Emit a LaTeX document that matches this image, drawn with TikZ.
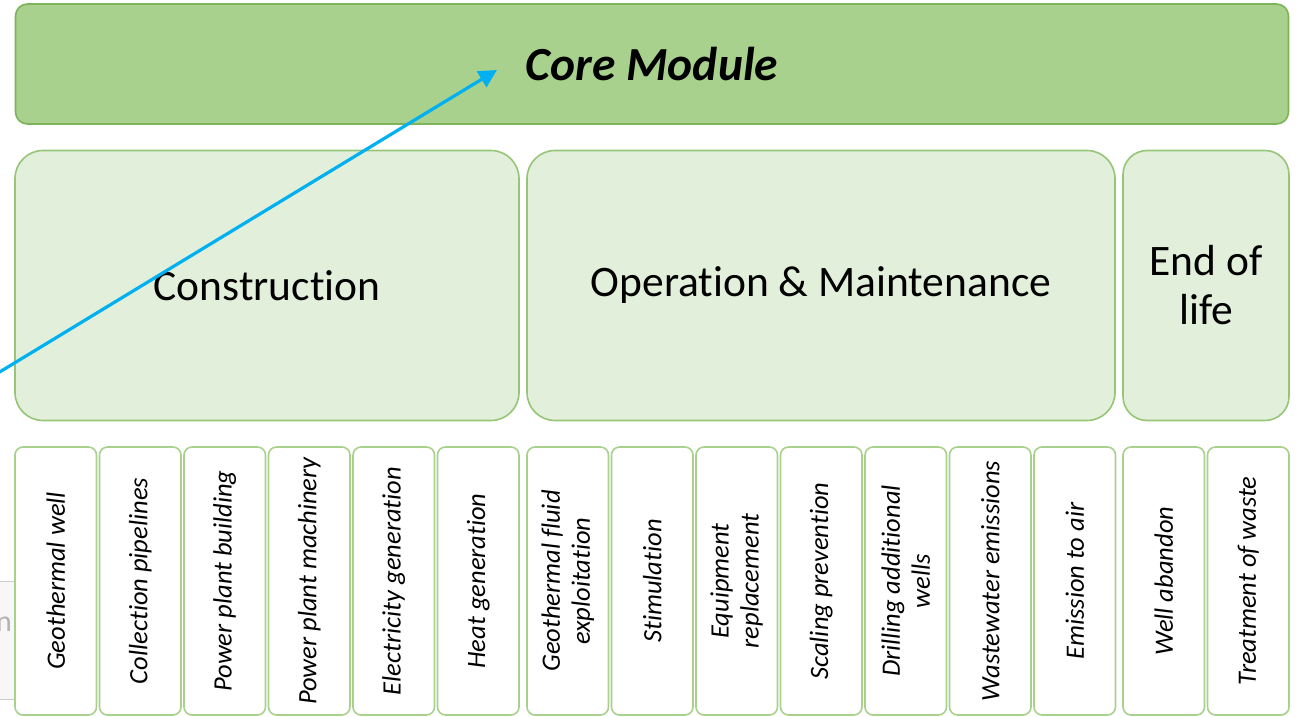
\documentclass[tikz,border=0pt]{standalone}
\usepackage{fontspec}
\setmainfont[RawFeature={-liga;-clig;-dlig;-calt}]{Carlito}
\usetikzlibrary{arrows.meta}
\definecolor{corefill}{HTML}{A9D18E}
\definecolor{coreline}{HTML}{7FB35A}
\definecolor{phasefill}{HTML}{E2EFDA}
\definecolor{phaseline}{HTML}{96C577}
\definecolor{itemline}{HTML}{A9D18E}
\definecolor{arrowblue}{HTML}{00B0F0}
\tikzset{
  x=1pt, y=-1pt,
  corebox/.style={draw=coreline, fill=corefill, line width=1.6pt, rounded corners=12pt,
    minimum width=1273pt, minimum height=120pt, inner sep=0pt,
    font=\fontsize{47.5}{52}\selectfont\bfseries\itshape},
  phasebox/.style={draw=phaseline, fill=phasefill, line width=1.6pt, rounded corners=28pt,
    minimum height=270pt, inner sep=0pt, align=center,
    font=\fontsize{43.5}{49}\selectfont},
  itembox/.style={draw=itemline, fill=white, line width=1.6pt, rounded corners=8pt,
    rotate=90, minimum width=268pt, minimum height=81.5pt, inner sep=0pt, align=center,
    font=\fontsize{26.5}{30}\selectfont\itshape},
  link/.style={draw=arrowblue, line width=3.2pt, -{Triangle[length=18pt,width=18pt]}},
  ghost/.style={draw=black!20, fill=black!3, line width=1pt},
}
\begin{document}
\begin{tikzpicture}
\useasboundingbox (0,0) rectangle (1299,717);
% partial grey overlay at left edge
\node[ghost, minimum width=40pt, minimum height=118pt, inner sep=0pt] (ghostbox) at (-6,640) {};
\node[text=black!30, font=\fontsize{30}{30}\selectfont, anchor=base west, inner sep=0pt] (ghosttext) at (-4,631) {n};

\node[corebox] (core) at (652,64) {Core Module};

\node[phasebox, minimum width=504pt] (constr) at (267,285.5) {Construction};
\node[phasebox, minimum width=588pt] (om) at (821,285.5) {Operation \& Maintenance\vphantom{y}};
\node[phasebox, minimum width=166pt, rounded corners=24pt] (eol) at (1206,285.5) {End of\\life};

\node[itembox] (i1) at (55.75,581) {Geothermal well};
\node[itembox] (i2) at (140.25,581) {Collection pipelines};
\node[itembox] (i3) at (224.75,581) {Power plant building};
\node[itembox] (i4) at (309.25,581) {Power plant machinery};
\node[itembox] (i5) at (393.75,581) {Electricity generation};
\node[itembox] (i6) at (478.25,581) {Heat generation};
\node[itembox] (i7) at (567.75,581) {Geothermal fluid\\exploitation};
\node[itembox] (i8) at (652.25,581) {Stimulation};
\node[itembox] (i9) at (736.75,581) {Equipment\\replacement};
\node[itembox] (i10) at (821.25,581) {Scaling prevention};
\node[itembox] (i11) at (905.75,581) {Drilling additional\\wells};
\node[itembox] (i12) at (990.25,581) {Wastewater emissions};
\node[itembox] (i13) at (1074.75,581) {Emission to air};
\node[itembox] (i14) at (1163.75,581) {Well abandon};
\node[itembox] (i15) at (1248.25,581) {Treatment of waste};

\coordinate (astart) at (-2,373);
\coordinate (aend) at (497,70);
\draw[link] (astart) -- (aend);
\end{tikzpicture}
\end{document}
